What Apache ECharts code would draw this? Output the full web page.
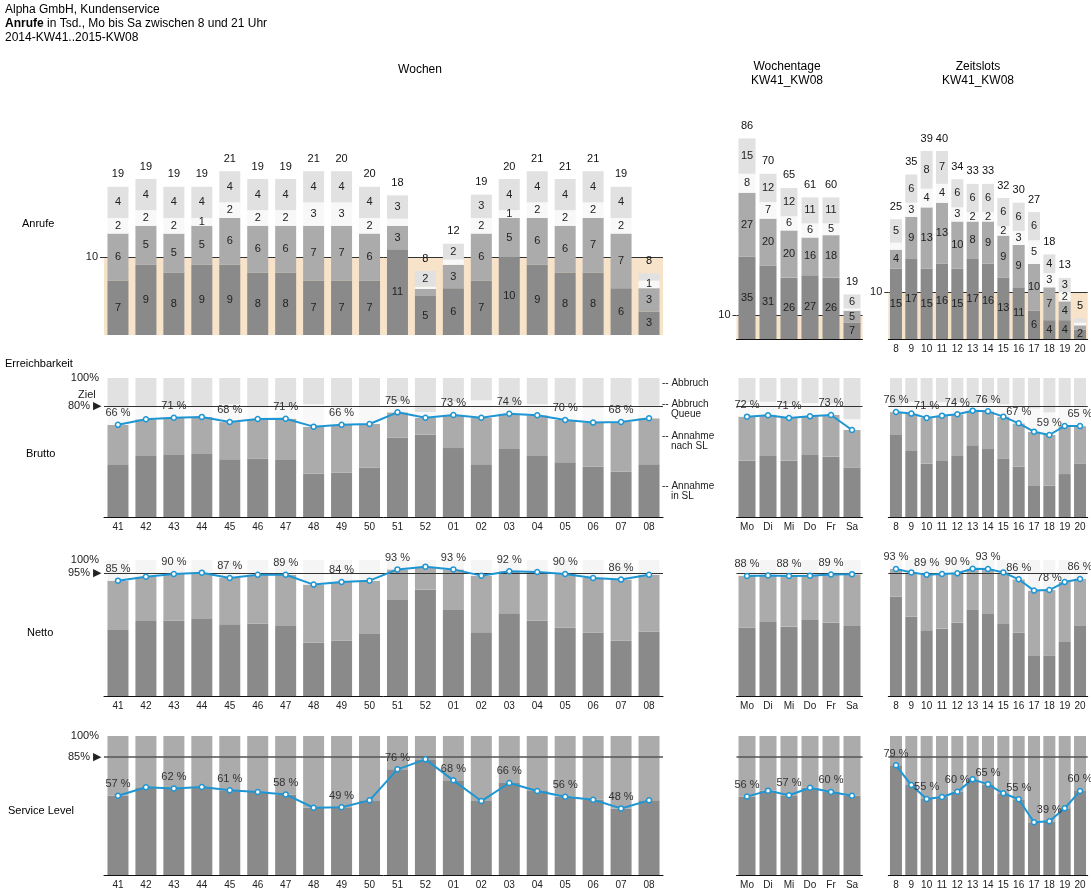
<!DOCTYPE html>
<html><head><meta charset="utf-8">
<script src="https://cdn.jsdelivr.net/npm/echarts@6/dist/echarts.min.js"></script>
<style>html,body{margin:0;padding:0;background:#fff}#c{width:1091px;height:891px}</style>
</head><body><div id="c"></div>
<script>
// ---------- categories ----------
const weeks = ['41','42','43','44','45','46','47','48','49','50','51','52','01','02','03','04','05','06','07','08'];
const days  = ['Mo','Di','Mi','Do','Fr','Sa'];
const slots = ['8','9','10','11','12','13','14','15','16','17','18','19','20'];

// ---------- Anrufe in Tsd. (Annahme in SL, Annahme nach SL, Abbruch Queue, Abbruch, Summe) ----------
const wkInSL   = [7,9,8,9,9,8,8,7,7,7,11,5,6,7,10,9,8,8,6,3];
const wkNachSL = [6,5,5,5,6,6,6,7,7,6,3,0.9,3,6,5,6,6,7,7,3];
const wkQueue  = [2,2,2,1,2,2,2,3,3,2,0.9,0.3,0.7,2,1,2,2,2,2,1];
const wkAbbr   = [4,4,4,4,4,4,4,4,4,4,3,2,2,3,4,4,4,4,4,0.9];
const wkTotal  = [19,19,19,19,21,19,19,21,20,20,18,8,12,19,20,21,21,21,19,8];

const wdInSL   = [35,31,26,27,26,7];
const wdNachSL = [27,20,20,16,18,5];
const wdQueue  = [8,7,6,6,5,0.9];
const wdAbbr   = [15,12,12,11,11,6];
const wdTotal  = [86,70,65,61,60,19];

const zsInSL   = [15,17,15,16,15,17,16,13,11,6,4,4,2];
const zsNachSL = [4,9,13,13,10,8,9,9,9,10,7,4,0.9];
const zsQueue  = [1.5,3,4,4,3,2,2,2,3,5,3,2,0.6];
const zsAbbr   = [5,6,8,7,6,6,6,6,6,6,4,3,0.9];
const zsTotal  = [25,35,39,40,34,33,33,32,30,27,18,13,5];

// ---------- Brutto (%) ----------
const wkBruttoAnnahme = [66.3,70.3,71.4,72,68.3,70.5,70.7,65,66.4,66.9,75.3,71.4,73.4,71.4,74.3,73.2,69.8,67.9,68.3,71];
const wkBruttoInSL    = [37.4,43.9,44.6,45.3,41.5,42,41,31.2,31.9,35.7,57,59.2,49.6,37.9,48.9,43.9,39.3,36.2,32.6,37.9];
const wkBruttoAbbr    = [21,21,21,21,19,21,21,19,20,20,17,24.5,17,16,20,19,19,21.6,21,20];
const wdBruttoAnnahme = [72.2,73.2,71.2,72.4,73.4,62.6];
const wdBruttoInSL    = [40.5,43.9,40.5,44.6,43.4,35.7];
const wdBruttoAbbr    = [17.4,17.1,18.5,18,18.3,29.7];
const zsBruttoAnnahme = [75.5,74.4,71.3,72.9,73.9,76.5,76,72.2,67.4,61.4,59,65.5,65.4];
const zsBruttoInSL    = [59,47.5,38.4,40.3,43.9,51.6,48.9,42.2,36.2,22.8,22.5,30.9,38.6];
const zsBruttoAbbr    = [20,17,20.5,17.5,17.6,18,18,19,20,22,24.7,20,20];

// ---------- Netto (%) ----------
const wkNettoAnnahme = [84.8,87.7,89.7,90.7,86.8,89.2,89.2,81.9,83.8,84.8,93.1,95.1,93.1,88.5,91.7,91.2,89.7,86.8,85.6,89.2];
const wkNettoInSL    = [48.5,55.1,55.6,56.6,52.7,53.2,51.5,39.2,40.9,45.6,70.6,78.4,63.2,46.8,60.8,55.4,50.2,46.6,40.7,47.5];
const wdNettoAnnahme = [88.2,88.6,88.2,88.5,89.3,89.6];
const wdNettoInSL    = [50.2,54.4,51,55.9,53.9,51.5];
const zsNettoAnnahme = [93.4,90.9,89.2,89.7,90.2,93.6,93.4,90.9,85.8,77.5,77.9,83.8,86];
const zsNettoInSL    = [73,58.3,48.3,49.5,53.9,63.2,60.3,52.9,46.6,29.4,29.9,39.7,51.5];

// ---------- Service Level (%) ----------
const wkServiceLevel = [57,63.1,62.3,63.3,60.9,59.7,58,48.4,48.7,53.7,76,83.2,68.1,53.2,66.2,60.4,56.3,54.1,47.9,53.7];
const wdServiceLevel = [56.4,60.7,57.4,62.8,59.7,57];
const zsServiceLevel = [78.9,64.7,54.7,56.1,59.9,68.8,65.2,58.8,54.5,37.9,38.6,48,60.4];

// ---------- targets ----------
const bruttoTarget = 80, bruttoTargetText = '80% ▶';
const nettoTarget = 90.5, nettoTargetText = '95% ▶';
const slTarget = 85, slTargetText = '85% ▶';
const anrufeRef = 10;

// ---------- build ----------
const FONT = '"Liberation Sans", Arial, sans-serif';
const C = {dark:'#8a8a8a', mid:'#ababab', queue:'#f8f8f8', abb:'#e1e1e1', nettoTop:'#f5f5f5', slTop:'#ababab', line:'#1e96d3', peach:'#f7e2ca'};

const cols = [
  {cats:weeks, left:104, width:559, barW:21, main:true,
   anr:{top:140, height:195, max:25, minLbl:1, axis:false, labels:false},
   a:[wkInSL,wkNachSL,wkQueue,wkAbbr], tot:wkTotal,
   br:[wkBruttoAnnahme,wkBruttoInSL,wkBruttoAbbr], ne:[wkNettoAnnahme,wkNettoInSL], sl:wkServiceLevel},
  {cats:days, left:736.5, width:126, barW:17,
   anr:{top:126.6, height:212.4, max:90, minLbl:3, axis:true, labels:false},
   a:[wdInSL,wdNachSL,wdQueue,wdAbbr], tot:wdTotal,
   br:[wdBruttoAnnahme,wdBruttoInSL,wdBruttoAbbr], ne:[wdNettoAnnahme,wdNettoInSL], sl:wdServiceLevel},
  {cats:slots, left:888.3, width:199.4, barW:12,
   anr:{top:151, height:188, max:40, minLbl:2, axis:true, labels:true},
   a:[zsInSL,zsNachSL,zsQueue,zsAbbr], tot:zsTotal,
   br:[zsBruttoAnnahme,zsBruttoInSL,zsBruttoAbbr], ne:[zsNettoAnnahme,zsNettoInSL], sl:zsServiceLevel},
];
const pctRows = {brutto:{top:378,height:139}, netto:{top:560,height:136}, sl:{top:736,height:139}};

const grids=[], xAxes=[], yAxes=[], series=[];
const xLbl = {fontSize:10, color:'#222', fontFamily:FONT, margin:5, interval:0};
function addGrid(g, cats, showLine, showLabels, yOpt){
  grids.push(g); const i = grids.length-1;
  xAxes.push({type:'category', gridIndex:i, data:cats, boundaryGap:true, axisTick:{show:false}, splitLine:{show:false},
    axisLine:{show:showLine, lineStyle:{color:'#111', width:1}}, axisLabel:Object.assign({show:showLabels}, xLbl)});
  yAxes.push(Object.assign({type:'value', gridIndex:i, splitLine:{show:false}, axisLine:{show:false}}, yOpt));
  return i;
}
function stackBar(gi, data, color, stack, lbl){
  return {type:'bar', xAxisIndex:gi, yAxisIndex:gi, data, stack, itemStyle:{color}, silent:true,
    label: lbl || {show:false}};
}
function lineSeries(gi, data, target, targetText){
  return {type:'line', xAxisIndex:gi, yAxisIndex:gi, data, z:4, silent:true,
    lineStyle:{color:C.line, width:2}, symbol:'circle', symbolSize:5, showAllSymbol:true,
    itemStyle:{color:'#fff', borderColor:C.line, borderWidth:1.5},
    label:{show:true, position:'top', distance:3, fontSize:11, color:'#333', fontFamily:FONT,
      formatter:p => p.dataIndex % 2 === 0 ? Math.round(p.value) + ' %' : ''},
    markLine:{silent:true, symbol:'none', animation:false, z:3,
      lineStyle:{color:'#333', width:1.2, type:'solid'},
      label: targetText ? {show:true, position:'start', distance:3, formatter:targetText, fontSize:11, color:'#222', fontFamily:FONT} : {show:false},
      data:[{yAxis:target}]}
  };
}

cols.forEach(col => {
  // Anrufe
  const A = col.anr;
  const gi = addGrid({left:col.left, width:col.width, top:A.top, height:A.height}, col.cats, A.axis, A.labels,
    {min:0, max:A.max,
     axisTick:{show:true, customValues:[anrufeRef], length:4, lineStyle:{color:'#333'}},
     axisLabel:{show:true, customValues:[anrufeRef], fontSize:11, color:'#222', margin:6, fontFamily:FONT}});
  const colors = [C.dark, C.mid, C.queue, C.abb];
  col.a.forEach((arr,k) => {
    const s = stackBar(gi, arr, colors[k], 'a'+gi,
      {show:true, position:'inside', fontSize:11, color:'#222', fontFamily:FONT,
       formatter:p => p.value >= A.minLbl ? String(Math.round(p.value)) : ''});
    s.barWidth = col.barW;
    if (k === 0) {
      s.markArea = {silent:true, z:0.5, itemStyle:{color:C.peach}, data:[[{yAxis:0},{yAxis:anrufeRef}]]};
      s.markLine = {silent:true, z:1, symbol:'none', animation:false, label:{show:false},
        lineStyle:{color:'#333', width:1, type:'solid'}, data:[{yAxis:anrufeRef}]};
    }
    series.push(s);
  });
  const sums = col.a[0].map((_,i) => col.a.reduce((t,arr)=>t+arr[i],0));
  series.push({type:'scatter', xAxisIndex:gi, yAxisIndex:gi, data:sums, symbolSize:2, itemStyle:{color:'rgba(0,0,0,0)', opacity:1}, silent:true, z:5,
    label:{show:true, position:'top', distance:6, fontSize:11, color:'#111', opacity:1, fontFamily:FONT, formatter:p => String(col.tot[p.dataIndex])}});

  const pctY = (show) => ({min:0, max:100, axisTick:{show:false},
    axisLabel:{show:show, customValues:[100], formatter:'{value}%', fontSize:11, color:'#222', margin:5, fontFamily:FONT}});

  // Brutto
  const [bAnn, bIn, bAbb] = col.br;
  const gb = addGrid({left:col.left, width:col.width, top:pctRows.brutto.top, height:pctRows.brutto.height}, col.cats, true, true, pctY(!!col.main));
  const bMid = bAnn.map((v,i)=>v - bIn[i]);
  const bQueue = bAnn.map((v,i)=>100 - v - bAbb[i]);
  [[bIn,C.dark],[bMid,C.mid],[bQueue,C.queue],[bAbb,C.abb]].forEach(([d,c]) => { const s = stackBar(gb, d, c, 'b'+gb); s.barWidth = col.barW; series.push(s); });
  series.push(lineSeries(gb, bAnn, bruttoTarget, col.main ? bruttoTargetText : null));

  // Netto
  const [nAnn, nIn] = col.ne;
  const gn = addGrid({left:col.left, width:col.width, top:pctRows.netto.top, height:pctRows.netto.height}, col.cats, true, true, pctY(!!col.main));
  const nMid = nAnn.map((v,i)=>v - nIn[i]);
  const nTop = nAnn.map(v=>100 - v);
  [[nIn,C.dark],[nMid,C.mid],[nTop,C.nettoTop]].forEach(([d,c]) => { const s = stackBar(gn, d, c, 'n'+gn); s.barWidth = col.barW; series.push(s); });
  series.push(lineSeries(gn, nAnn, nettoTarget, col.main ? nettoTargetText : null));

  // Service Level
  const gs = addGrid({left:col.left, width:col.width, top:pctRows.sl.top, height:pctRows.sl.height}, col.cats, true, true, pctY(!!col.main));
  const sTop = col.sl.map(v=>100 - v);
  [[col.sl,C.dark],[sTop,C.slTop]].forEach(([d,c]) => { const s = stackBar(gs, d, c, 's'+gs); s.barWidth = col.barW; series.push(s); });
  const ls = lineSeries(gs, col.sl, slTarget, col.main ? slTargetText : null);
  ls.markLine.lineStyle = {color:'#555', width:1.5, type:'solid'};
  series.push(ls);
});

const T = (x, y, text, size, extra) => ({type:'text', x, y, silent:true,
  style:Object.assign({text, fontSize:size, fontFamily:FONT, fill:'#000', verticalAlign:'middle'}, extra||{})});
const graphic = [
  T(5,10,'Alpha GmbH, Kundenservice',12),
  {type:'text', x:5, y:24, silent:true, style:{text:'{b|Anrufe}{n| in Tsd., Mo bis Sa zwischen 8 und 21 Uhr}', verticalAlign:'middle',
    rich:{b:{fontWeight:'bold', fontSize:12, fontFamily:FONT, fill:'#000'}, n:{fontSize:12, fontFamily:FONT, fill:'#000'}}}},
  T(5,38,'2014-KW41..2015-KW08',12),
  T(420,70,'Wochen',12,{align:'center'}),
  T(787,67,'Wochentage',12,{align:'center'}),
  T(787,81,'KW41_KW08',12,{align:'center'}),
  T(978,67,'Zeitslots',12,{align:'center'}),
  T(978,81,'KW41_KW08',12,{align:'center'}),
  T(22,224,'Anrufe',11),
  T(5,364,'Erreichbarkeit',11),
  T(26,454,'Brutto',11),
  T(27,633,'Netto',11),
  T(8,811,'Service Level',11),
  T(78,395,'Ziel',11,{fill:'#222'}),
  T(662,383,'-- Abbruch',10,{fill:'#222'}),
  T(662,404,'-- Abbruch',10,{fill:'#222'}),
  T(671,414,'Queue',10,{fill:'#222'}),
  T(662,436,'-- Annahme',10,{fill:'#222'}),
  T(671,446,'nach SL',10,{fill:'#222'}),
  T(662,486,'-- Annahme',10,{fill:'#222'}),
  T(671,496,'in SL',10,{fill:'#222'}),
];

const chart = echarts.init(document.getElementById('c'));
chart.setOption({animation:false, textStyle:{fontFamily:FONT}, grid:grids, xAxis:xAxes, yAxis:yAxes, series, graphic});
</script></body></html>
